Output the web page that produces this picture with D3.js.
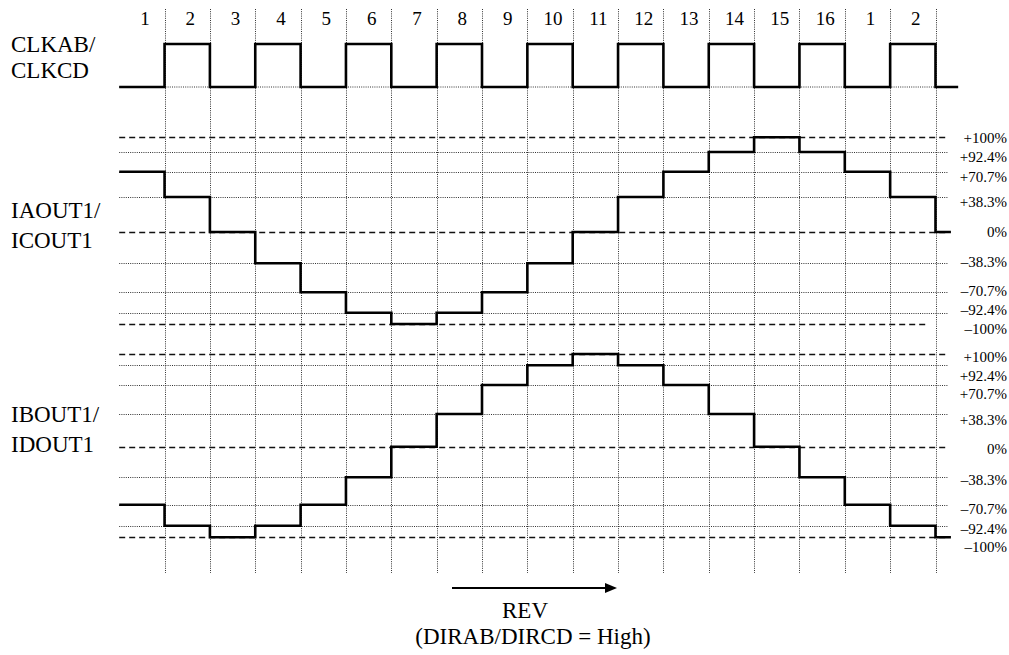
<!DOCTYPE html>
<html><head><meta charset="utf-8">
<script src="https://cdn.jsdelivr.net/npm/d3@7"></script>
<style>
html,body{margin:0;padding:0;background:#fff;}
svg{display:block;}
</style></head>
<body><svg id="c" width="1009" height="655"></svg>
<script>
// ---- data ----
const stepLabels = ["1","2","3","4","5","6","7","8","9","10","11","12","13","14","15","16","1","2"];
const clockLevels = [0,1,0,1,0,1,0,1,0,1,0,1,0,1,0,1,0,1,0];
const seriesA = [70.7,38.3,0,-38.3,-70.7,-92.4,-100,-92.4,-70.7,-38.3,0,38.3,70.7,92.4,100,92.4,70.7,38.3,0];
const seriesB = [-70.7,-92.4,-100,-92.4,-70.7,-38.3,0,38.3,70.7,92.4,100,92.4,70.7,38.3,0,-38.3,-70.7,-92.4,-100];
const levels = [100,92.4,70.7,38.3,0,-38.3,-70.7,-92.4,-100];
const levelLabels = ["+100%","+92.4%","+70.7%","+38.3%","0%","\u201338.3%","\u201370.7%","\u201392.4%","\u2013100%"];
const dashedLevels = [100,0,-100];
const leftLabels = ["CLKAB/","CLKCD","IAOUT1/","ICOUT1","IBOUT1/","IDOUT1"];

// ---- layout ----
const FONT = "'Liberation Serif','Times New Roman',serif";
const svg = d3.select("#c");
const x = d3.scaleLinear().domain([0,18]).range([119.2,935.5]);
const yClk = d3.scaleLinear().domain([0,1]).range([87,44]);
const yA = d3.scaleLinear().domain(levels.slice().reverse())
  .range([324,312.7,292.3,263.3,232,197,171.7,152,137.3]);
const yB = d3.scaleLinear().domain(levels.slice().reverse())
  .range([537.3,525.7,504.7,477.3,446.7,414,385,365.3,354]);
const labOffA = [0,4.7,5,4.6,0,-1.6,-1.6,-2.7,4.3];
const labOffB = [2.7,10.7,8.3,6,1.6,2.7,3.6,2.6,9.4];
const leftY = [52,78,218,248,421.5,451.5];

const dotStyle = s => s.attr("stroke","#333").attr("stroke-width",1).attr("stroke-dasharray","1,1.2").attr("fill","none");
const dashStyle = s => s.attr("stroke","#111").attr("stroke-width",1.3).attr("stroke-dasharray","6,4").attr("fill","none");

// vertical dotted lines
svg.append("g").selectAll("line").data(d3.range(1,19)).join("line")
  .attr("x1",d=>Math.round(x(d))+0.5).attr("x2",d=>Math.round(x(d))+0.5)
  .attr("y1",9).attr("y2",573).call(dotStyle);

// step labels
svg.append("g").selectAll("text").data(stepLabels).join("text")
  .attr("x",(d,i)=>x(i+0.5)+3).attr("y",25).attr("text-anchor","middle")
  .attr("font-family",FONT).attr("font-size",19).attr("fill","#000").text(d=>d);

// clock baseline dotted
svg.append("line").attr("x1",x(0)).attr("x2",x(18.3)).attr("y1",yClk(0)).attr("y2",yClk(0)).call(dotStyle);

function panel(y, offs, series, minDashEnd){
  const g = svg.append("g");
  levels.forEach((lv,i)=>{
    const dashed = dashedLevels.includes(lv);
    const end = (dashed && lv===-100 && minDashEnd) ? x(17.8) : x(18.27);
    g.append("line").attr("x1",x(0)).attr("x2",end)
      .attr("y1",Math.round(y(lv))+0.5).attr("y2",Math.round(y(lv))+0.5)
      .call(dashed?dashStyle:dotStyle);
    g.append("text").attr("x",1007).attr("y",y(lv)+offs[i]).attr("dy","0.35em")
      .attr("text-anchor","end").attr("font-family",FONT).attr("font-size",15).attr("fill","#000").text(levelLabels[i]);
  });
  const pts = series.map((v,i)=>[i,v]);
  pts.push([18.34, series[series.length-1]]);
  const line = d3.line().x(d=>x(d[0])).y(d=>y(d[1])).curve(d3.curveStepAfter);
  g.append("path").attr("d",line(pts)).attr("fill","none").attr("stroke","#000").attr("stroke-width",2.6);
}
panel(yA, labOffA, seriesA, true);
panel(yB, labOffB, seriesB, false);

// clock
const cpts = clockLevels.map((v,i)=>[i,v]);
cpts.push([18.5, clockLevels[clockLevels.length-1]]);
svg.append("path").attr("d", d3.line().x(d=>x(d[0])).y(d=>yClk(d[1])).curve(d3.curveStepAfter)(cpts))
  .attr("fill","none").attr("stroke","#000").attr("stroke-width",2.6);

// left labels
svg.append("g").selectAll("text").data(leftLabels).join("text")
  .attr("x",11).attr("y",(d,i)=>leftY[i]).attr("font-family",FONT).attr("font-size",23).attr("fill","#000").text(d=>d);

// arrow
svg.append("line").attr("x1",452).attr("x2",607).attr("y1",588).attr("y2",588).attr("stroke","#000").attr("stroke-width",1.8);
svg.append("path").attr("d","M605,583 L617,588 L605,593 Z").attr("fill","#000");
svg.append("text").attr("x",525).attr("y",618).attr("text-anchor","middle").attr("font-family",FONT).attr("font-size",23).text("REV");
svg.append("text").attr("x",533).attr("y",644).attr("text-anchor","middle").attr("font-family",FONT).attr("font-size",23).text("(DIRAB/DIRCD = High)");
</script></body></html>
